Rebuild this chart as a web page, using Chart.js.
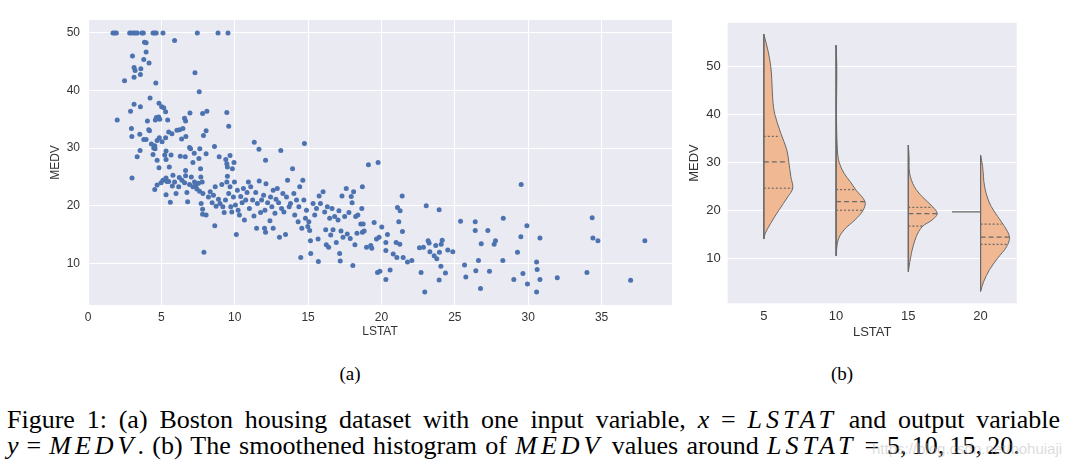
<!DOCTYPE html>
<html>
<head>
<meta charset="utf-8">
<script src="https://cdn.jsdelivr.net/npm/chart.js@4/dist/chart.umd.min.js"></script>
<style>
body { margin:0; background:#fff; width:1072px; height:468px; position:relative; overflow:hidden;
       font-family:"Liberation Serif","Times New Roman",serif; color:#000; }
#c1 { position:absolute; left:0; top:0; }
#c2 { position:absolute; left:680px; top:0; }
.sub { position:absolute; top:364px; font-size:19px; line-height:19px; transform:translateX(-50%); }
.cap { position:absolute; left:7px; font-size:26px; line-height:26px; }
#l1 { width:1053px; text-align:justify; text-align-last:justify; white-space:normal; }
#l2 { white-space:nowrap; word-spacing:1.8px; }
.m { font-style:italic; font-family:"Liberation Serif",serif; }
.v { letter-spacing:4px; }
.eq { margin:0 8px; }
.wm { position:absolute; left:872px; top:440px; font:15px "Liberation Sans",sans-serif; color:rgba(190,190,190,0.55); }
</style>
</head>
<body>
<canvas id="c1" width="680" height="345"></canvas>
<canvas id="c2" width="392" height="345"></canvas>
<div class="sub" style="left:350px">(a)</div>
<div class="sub" style="left:842px">(b)</div>
<div class="cap" id="l1" style="top:407px">Figure 1: (a) Boston housing dataset with one input variable, <span class="m">x</span> = <span class="m v">LSTAT</span> and output variable</div>
<div class="cap" id="l2" style="top:433px"><span class="m">y</span><span class="eq">=</span><span class="m v">MEDV</span>. (b) The smoothened histogram of <span class="m v">MEDV</span> values around <span class="m v">LSTAT</span><span class="eq">=</span>5,&#8201;10,&#8201;15,&#8201;20.</div>
<div class="wm">https://blog.csdn.net/bohuiaji</div>
<script>
// (a) scatter: LSTAT vs MEDV
const lstat = [
  1.70,1.82,1.93,2.84,2.95,3.11,3.22,3.36,3.68,3.77,4.43,4.54,4.65,5.11,7.45,8.86,9.54,
  5.9,3.85,3.96,3.03,3.96,3.8,4.16,3.14,3.21,3.6,
  3.57,3.14,2.49,4.62,7.29,7.58,4.23,1.99,2.9,3.14,
  3.57,4.05,2.96,2.99,3.35,3.55,3.0,3.53,3.8,3.96,
  4.14,4.19,4.32,4.43,4.48,4.55,4.59,4.66,4.82,4.89,
  4.84,4.71,4.86,4.57,4.71,4.84,5.02,5.16,5.29,5.43,
  5.5,5.72,5.29,5.05,5.32,5.23,5.66,5.32,5.54,6.06,
  6.24,6.47,6.38,6.67,6.58,6.65,6.95,6.29,6.63,6.92,
  6.99,7.15,7.24,7.56,7.62,7.81,8.1,7.87,8.05,8.05,
  8.62,8.94,9.46,9.59,9.39,9.68,9.46,9.95,9.5,9.84,
  7.67,6.65,
  4.55,4.71,4.98,5.11,5.32,5.38,5.32,5.61,5.5,5.79,
  5.75,5.9,6.0,6.18,6.22,6.4,6.58,6.65,6.74,6.79,
  6.92,7.04,7.15,7.26,7.35,7.42,7.53,7.6,7.69,7.78,
  7.83,7.71,7.81,7.81,7.9,8.05,8.21,8.33,8.46,8.55,
  8.67,8.64,8.73,8.89,9.0,9.12,9.19,9.28,9.37,9.46,
  9.5,9.59,9.68,9.73,9.8,9.91,9.98,10.05,10.11,10.18,
  10.23,10.32,10.41,10.5,10.59,10.66,10.75,10.84,10.93,11.0,
  11.09,11.22,11.31,11.33,11.43,11.49,11.54,11.65,11.67,11.76,
  11.83,11.97,12.06,12.1,12.13,12.24,12.1,12.4,12.44,12.53,
  12.62,12.74,12.81,12.9,12.99,13.05,13.14,13.19,13.28,13.35,
  13.46,13.53,13.6,13.71,13.8,13.94,14.03,14.09,14.21,14.32,
  14.37,14.43,14.5,14.57,14.64,14.71,14.75,14.82,14.89,14.98,
  15.05,15.11,15.16,15.18,15.34,15.45,15.57,15.68,15.7,15.75,
  15.84,16.02,16.13,16.2,16.24,16.31,16.4,16.47,16.54,16.63,
  16.7,16.81,16.92,17.04,17.1,17.15,17.19,17.24,17.31,17.38,
  17.49,17.6,17.67,17.78,17.87,17.94,18.0,18.05,18.1,18.19,
  18.24,18.33,18.39,12.03,12.62,
  18.59,18.75,18.7,18.82,18.7,19.11,19.77,18.66,18.98,19.27,
  19.34,19.5,19.66,19.84,19.73,19.89,20.02,20.3,20.3,20.3,
  20.41,20.59,20.8,21.05,21.0,21.25,21.09,21.27,21.18,21.41,
  21.43,21.48,21.77,22.07,22.59,22.86,22.7,22.95,23.05,23.18,
  23.25,23.3,23.59,23.77,23.7,23.93,23.93,23.95,24.07,24.14,
  24.05,24.36,24.52,24.86,25.39,25.66,25.75,26.39,26.39,26.43,
  26.61,26.75,26.8,27.25,27.36,27.68,27.77,28.27,28.3,29.02,
  29.27,29.5,29.52,29.64,29.91,29.95,30.57,30.61,30.57,30.8,
  30.8,31.98,34.0,34.36,34.41,34.75,36.98,37.95
];
const medv = [
  50,50,50,50,50,50,50,50,50,50,50,50,50,50,50,50,50,
  48.7,48.4,48.3,46.0,46.7,45.4,44.8,44.0,43.5,43.8,
  42.8,42.3,41.7,41.3,43.1,39.8,38.7,34.9,36.4,37.6,
  37.2,34.7,33.4,32.0,28.5,29.6,24.8,32.4,31.5,31.5,
  33.2,33.0,30.7,28.9,30.0,30.4,34.9,35.3,35.4,35.0,
  37.8,31.3,31.8,29.9,27.9,26.6,37.2,37.0,36.3,34.9,
  32.8,32.5,31.8,31.1,29.5,28.8,28.8,28.0,26.7,33.1,
  33.2,33.4,31.6,32.0,35.2,34.7,36.1,28.6,28.5,30.1,
  29.9,27.5,29.1,28.2,29.9,36.0,36.4,32.2,33.0,29.0,
  30.3,28.5,36.2,33.8,28.0,28.7,27.3,27.5,26.7,26.4,
  26.4,26.1,
  22.8,23.6,24.0,24.4,24.8,24.2,21.9,20.6,24.2,25.3,
  23.4,24.1,22.1,23.3,24.9,24.4,24.0,25.2,22.3,20.7,
  23.7,25.0,23.3,24.1,23.5,22.9,23.9,22.5,25.0,24.1,
  22.1,20.4,19.4,18.5,11.9,18.4,21.5,22.4,20.5,21.8,
  23.3,16.5,19.9,21.1,20.4,23.7,19.8,18.8,21.0,24.1,
  25.1,22.1,23.3,19.8,18.9,21.5,24.1,20.1,15.0,22.7,
  19.2,18.4,21.6,20.5,23.0,17.5,21.0,22.3,24.1,19.5,
  23.3,21.0,18.2,31.0,22.3,16.1,20.4,29.8,24.3,18.8,
  21.0,21.8,19.2,15.4,23.8,20.5,27.9,17.4,21.5,19.8,
  22.7,18.7,21.1,23.0,20.5,14.5,29.6,19.5,22.1,18.9,
  15.0,21.5,24.4,19.8,20.4,26.4,22.1,18.4,21.0,17.2,
  19.8,23.3,11.0,16.1,24.4,21.0,30.8,17.8,19.2,16.4,
  17.2,15.7,13.9,11.7,20.4,18.4,19.5,14.2,10.3,21.7,
  20.4,22.4,18.9,15.8,13.2,19.8,12.8,17.8,14.9,19.5,
  15.8,18.1,13.6,17.5,19.1,11.7,10.4,15.6,21.7,14.5,
  18.1,23.0,15.1,18.8,14.3,21.6,20.5,9.6,22.4,13.2,
  18.1,15.2,18.4,16.1,16.1,
  16.8,16.8,15.4,15.6,23.3,27.1,27.5,19.5,12.8,13.1,
  12.6,17.1,14.2,14.5,8.4,8.6,16.3,13.6,12.2,7.2,
  15.0,8.85,11.6,11.0,13.6,13.3,19.7,19.1,17.2,21.7,
  15.5,11.0,10.2,10.5,12.7,12.8,8.4,5.0,20.0,13.9,
  13.5,12.0,11.3,10.8,13.1,19.3,7.1,11.9,13.3,14.0,
  9.5,8.3,12.3,12.0,17.3,9.7,7.6,17.2,15.7,8.7,
  10.5,5.6,13.4,15.7,8.6,13.3,13.9,10.5,17.8,7.2,
  11.9,14.6,23.7,8.2,16.5,6.4,10.2,8.9,5.0,14.4,
  7.2,7.5,8.4,17.9,14.4,13.9,7.05,13.9
];
const xTicksA = [0, 5, 10, 15, 20, 25, 30, 35];
const yTicksA = [10, 20, 30, 40, 50];

// (b) half violins: MEDV level and half-width (in LSTAT units) of the right edge
const violinCats = [5, 10, 15, 20];
const violinY = [
  [56.7,53.4,50,47.2,43,40,36,32.6,30,27,24.6,22.8,20,17.3,15.2,14],
  [54.4,50,40,32.6,30,27.7,26,24.2,21.8,20,18,15.9,13.8,10.5],
  [33.6,31.2,27.7,24.9,22.8,20.8,19.3,18,16.6,14.5,11,7.2],
  [31.5,29.1,24.9,21.5,18.7,16.6,14.4,12.4,10,7.6,5.1,3.1]
];
const violinW = [
  [0,0.28,0.48,0.55,0.62,0.76,1.18,1.59,1.73,1.87,2.0,1.66,1.04,0.48,0.1,0],
  [0,0.05,0.03,0.09,0.21,0.55,0.97,1.38,2.0,1.87,1.31,0.55,0.14,0],
  [0,0.05,0.09,0.42,0.97,1.66,2.0,1.66,0.97,0.55,0.21,0],
  [0,0.14,0.28,0.62,1.18,1.66,2.0,1.8,1.18,0.62,0.21,0]
];
// quartiles (upper, median, lower) and where each line meets the edge
const quartY = [[35.4,30.1,24.6],[24.3,21.8,20.0],[20.6,19.3,16.7],[17.1,14.4,12.9]];
const quartW = [[1.08,1.59,2.0],[1.38,2.0,1.87],[1.68,2.0,1.04],[1.45,2.0,1.94]];
// left half at LSTAT=20 is a single value
const leftHalfY = 19.65;
const leftHalfW = 1.98;
const xTicksB = [5, 10, 15, 20];
const yTicksB = [10, 20, 30, 40, 50];

const bgPlugin = {
  id: 'bg',
  beforeDraw(chart) {
    const {ctx, chartArea: a} = chart;
    ctx.save();
    ctx.fillStyle = '#eaeaf2';
    ctx.fillRect(a.left, a.top, a.width, a.height);
    ctx.restore();
  }
};

const tickColor = '#333';
function fixTicks(list) {
  return function(scale) { scale.ticks = list.map(v => ({value: v})); };
}

// ---- chart (a)
new Chart(document.getElementById('c1'), {
  type: 'scatter',
  data: {
    datasets: [{
      data: lstat.map((x, i) => ({x: x, y: medv[i]})),
      backgroundColor: '#4c72b0',
      borderWidth: 0,
      pointRadius: 2.5
    }]
  },
  options: {
    responsive: false,
    animation: false,
    layout: {padding: {left: 0, top: 20, right: 8, bottom: 0}},
    plugins: {legend: {display: false}, tooltip: {enabled: false}},
    scales: {
      x: {
        type: 'linear', min: 0, max: 39.8,
        afterBuildTicks: fixTicks(xTicksA),
        afterFit: s => { s.height = 40; },
        grid: {color: '#fff', lineWidth: 1, drawTicks: false},
        border: {display: false},
        ticks: {color: tickColor, padding: 5, font: {family: 'Liberation Sans', size: 12}},
        title: {display: true, text: 'LSTAT', color: tickColor, padding: {top: 0, bottom: 6},
                font: {family: 'Liberation Sans', size: 12}}
      },
      y: {
        type: 'linear', min: 2.75, max: 52.25,
        afterBuildTicks: fixTicks(yTicksA),
        afterFit: s => { s.width = 88; },
        grid: {color: '#fff', lineWidth: 1, drawTicks: false},
        border: {display: false},
        ticks: {color: tickColor, padding: 8, font: {family: 'Liberation Sans', size: 12}},
        title: {display: true, text: 'MEDV', color: tickColor, padding: {top: 48, bottom: 0},
                font: {family: 'Liberation Sans', size: 12}}
      }
    }
  },
  plugins: [bgPlugin]
});

// ---- chart (b)
const edge = 'rgb(105,105,105)';
const dsB = [];
violinCats.forEach((c, i) => {
  const ys = violinY[i], ws = violinW[i];
  dsB.push({
    data: ys.map((y, j) => ({x: c + ws[j], y: y})),
    fill: 'shape',
    backgroundColor: 'rgb(241,185,147)',
    borderColor: edge, borderWidth: 1, tension: 0.35, pointRadius: 0,
    order: 3
  });
  dsB.push({
    data: [{x: c, y: ys[0]}, {x: c, y: ys[ys.length - 1]}],
    borderColor: edge, borderWidth: 1, pointRadius: 0, fill: false,
    order: 2
  });
  quartY[i].forEach((q, k) => {
    dsB.push({
      data: [{x: c, y: q}, {x: c + quartW[i][k], y: q}],
      borderColor: '#6a6a6a', borderWidth: 1.2, pointRadius: 0, fill: false,
      borderDash: k === 1 ? [5, 3] : [2, 2],
      order: 1
    });
  });
});
dsB.push({
  data: [{x: 20 - leftHalfW, y: leftHalfY}, {x: 20, y: leftHalfY}],
  borderColor: edge, borderWidth: 1.2, pointRadius: 0, fill: false, order: 1
});

new Chart(document.getElementById('c2'), {
  type: 'line',
  data: {datasets: dsB},
  options: {
    responsive: false,
    animation: false,
    layout: {padding: {left: 0, top: 22.7, right: 55.3, bottom: 0}},
    plugins: {legend: {display: false}, tooltip: {enabled: false}},
    scales: {
      x: {
        type: 'linear', min: 2.5, max: 22.5,
        afterBuildTicks: fixTicks(xTicksB),
        afterFit: s => { s.height = 41.7; },
        grid: {display: false},
        border: {display: false},
        ticks: {color: tickColor, padding: -3, font: {family: 'Liberation Sans', size: 13}},
        title: {display: true, text: 'LSTAT', color: tickColor, padding: {top: 0, bottom: 5},
                font: {family: 'Liberation Sans', size: 13}}
      },
      y: {
        type: 'linear', min: 0.6, max: 59.1,
        afterBuildTicks: fixTicks(yTicksB),
        afterFit: s => { s.width = 47.7; },
        grid: {color: '#fff', lineWidth: 1, drawTicks: false},
        border: {display: false},
        ticks: {color: tickColor, padding: 7, font: {family: 'Liberation Sans', size: 13}},
        title: {display: true, text: 'MEDV', color: tickColor, padding: {top: 7, bottom: 0},
                font: {family: 'Liberation Sans', size: 13}}
      }
    }
  },
  plugins: [bgPlugin]
});
</script>
</body>
</html>
